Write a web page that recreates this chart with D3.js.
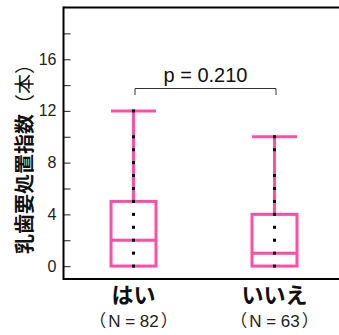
<!DOCTYPE html>
<html><head><meta charset="utf-8">
<script src="https://cdn.jsdelivr.net/npm/d3@7"></script>
<style>
html,body{margin:0;padding:0;background:#fff;}
svg{display:block;}
</style></head>
<body>
<svg id="chart" width="339" height="335"></svg>
<script>
// ---- data ----
const categories = ["はい", "いいえ"];
const sampleSizes = ["（N = 82）", "（N = 63）"];
const q1 = [0, 0];
const median = [2, 1];
const q3 = [5, 4];
const whiskerLow = [0, 0];
const whiskerHigh = [12, 10];
const pointValues = [
  [0, 1, 2, 3, 4, 5, 6, 7, 8, 9, 10, 12],
  [0, 1, 2, 3, 4, 5, 6, 7, 9, 10]
];
const majorTicks = [0, 4, 8, 12, 16];
const minorTicks = [2, 6, 10, 14, 18];
const yLabelMain = "乳歯要処置指数";
const yLabelUnit = "（本）";
const pLabel = "p = 0.210";

// ---- layout ----
const svg = d3.select("#chart");
const mLeft = 63.5, mTop = 7.5, mBottom = 279, mRight = 339;
const pink = "#ff4fa3";
const y = d3.scaleLinear().domain([-1, 20]).range([mBottom, mTop]);
const x = d3.scalePoint().domain(categories).range([133.5, 274.5]);
const boxW = 45;

// frame
svg.append("line").attr("x1", mLeft).attr("x2", mRight).attr("y1", mTop).attr("y2", mTop)
  .attr("stroke", "#000").attr("stroke-width", 2);
svg.append("line").attr("x1", mLeft).attr("x2", mRight).attr("y1", mBottom).attr("y2", mBottom)
  .attr("stroke", "#000").attr("stroke-width", 2);

// y axis
const axis = d3.axisRight(y).tickValues(majorTicks.concat(minorTicks)).tickSize(7).tickFormat("");
const ag = svg.append("g").attr("transform", `translate(${mLeft},0)`).call(axis);
ag.select(".domain").remove();
ag.selectAll(".tick line").attr("stroke", "#444").attr("stroke-width", 1.2);
svg.append("line").attr("x1", mLeft).attr("x2", mLeft).attr("y1", mTop - 1).attr("y2", mBottom + 1)
  .attr("stroke", "#000").attr("stroke-width", 2);
svg.selectAll("text.ytick").data(majorTicks).join("text")
  .attr("class", "ytick")
  .attr("x", 56.5).attr("y", d => y(d))
  .attr("text-anchor", "end").attr("dominant-baseline", "central")
  .attr("font-family", "Liberation Sans, Arial, sans-serif").attr("font-size", 16)
  .attr("fill", "#222").text(d => d);

// y label
const yl = svg.append("text")
  .attr("transform", "translate(23,154) rotate(-90)")
  .attr("text-anchor", "middle").attr("dominant-baseline", "central")
  .attr("font-family", "Noto Sans CJK JP").attr("font-size", 20).attr("fill", "#111");
yl.append("tspan").attr("font-weight", "bold").text(yLabelMain);
yl.append("tspan").attr("font-weight", "normal").text(yLabelUnit);

// boxes
const g = svg.append("g");
categories.forEach((c, i) => {
  const cx = x(c);
  const gg = g.append("g");
  gg.append("line").attr("x1", cx).attr("x2", cx).attr("y1", y(q3[i])).attr("y2", y(whiskerHigh[i]))
    .attr("stroke", pink).attr("stroke-width", 3);
  gg.append("line").attr("x1", cx).attr("x2", cx).attr("y1", y(q1[i])).attr("y2", y(whiskerLow[i]))
    .attr("stroke", pink).attr("stroke-width", 3);
  gg.append("line").attr("x1", cx - boxW / 2).attr("x2", cx + boxW / 2)
    .attr("y1", y(whiskerHigh[i])).attr("y2", y(whiskerHigh[i]))
    .attr("stroke", pink).attr("stroke-width", 3);
  gg.append("rect").attr("x", cx - boxW / 2).attr("width", boxW)
    .attr("y", y(q3[i])).attr("height", y(q1[i]) - y(q3[i]))
    .attr("fill", "none").attr("stroke", pink).attr("stroke-width", 3);
  gg.append("line").attr("x1", cx - boxW / 2).attr("x2", cx + boxW / 2)
    .attr("y1", y(median[i])).attr("y2", y(median[i]))
    .attr("stroke", pink).attr("stroke-width", 3);
  gg.selectAll("rect.pt").data(pointValues[i]).join("rect")
    .attr("class", "pt")
    .attr("x", cx - 1.5).attr("y", d => y(d) - 1.5)
    .attr("width", 3).attr("height", 3).attr("fill", "#000");
});

// significance bracket
const x1 = x(categories[0]) + 1.5, x2 = x(categories[1]) + 1.5;
const by = 88.5;
svg.append("path")
  .attr("d", `M${x1},${by + 6.5}V${by}H${x2}V${by + 6.5}`)
  .attr("fill", "none").attr("stroke", "#333").attr("stroke-width", 1);
svg.append("text").attr("x", (x1 + x2) / 2).attr("y", 81.5)
  .attr("text-anchor", "middle")
  .attr("font-family", "Liberation Sans, Arial, sans-serif").attr("font-size", 20)
  .attr("fill", "#111").text(pLabel);

// x labels
svg.selectAll("text.cat").data(categories).join("text")
  .attr("class", "cat")
  .attr("x", d => x(d)).attr("y", 303)
  .attr("text-anchor", "middle")
  .attr("font-family", "Noto Sans CJK JP").attr("font-weight", "bold").attr("font-size", 22)
  .attr("fill", "#111").text(d => d);
svg.selectAll("text.n").data(sampleSizes).join("text")
  .attr("class", "n")
  .attr("x", (d, i) => x(categories[i])).attr("y", 327)
  .attr("text-anchor", "middle")
  .attr("font-family", "Liberation Sans, sans-serif").attr("font-size", 17)
  .attr("fill", "#222")
  .each(function (d) {
    const t = d3.select(this);
    const chars = Array.from(d);
    t.append("tspan").attr("font-family", "Noto Sans CJK JP").text(chars[0]);
    t.append("tspan").attr("dx", 2).text(chars.slice(1, -1).join(""));
    t.append("tspan").attr("dx", 2).attr("font-family", "Noto Sans CJK JP").text(chars[chars.length - 1]);
  });
</script>
</body></html>
